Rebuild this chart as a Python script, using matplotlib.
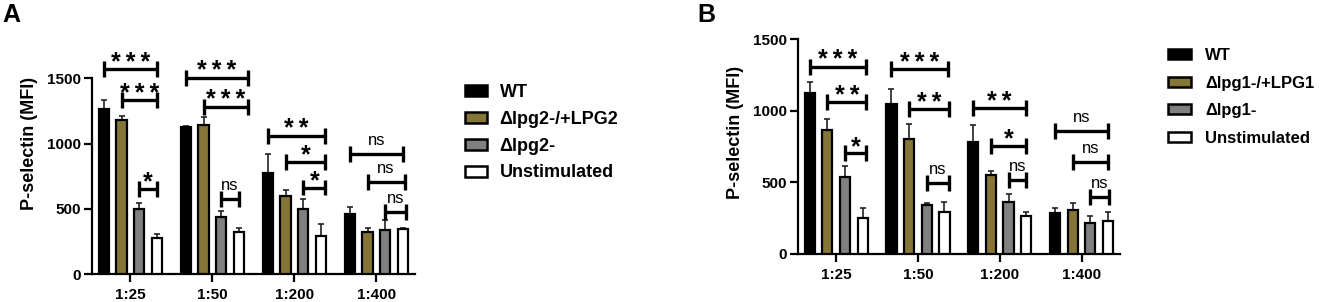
import matplotlib
matplotlib.use("Agg")
import matplotlib.pyplot as plt
from matplotlib.patches import Patch
import numpy as np

plt.rcParams['font.family'] = ['Liberation Sans', 'DejaVu Sans']

groups = ["1:25", "1:50", "1:200", "1:400"]

# Panel A
labels_a = ["WT", "Δlpg2-/+LPG2", "Δlpg2-", "Unstimulated"]
means_a = {
    "WT":           [1262, 1126, 773, 461],
    "Δlpg2-/+LPG2": [1177, 1142, 599, 325],
    "Δlpg2-":       [497, 438, 502, 338],
    "Unstimulated": [274, 322, 294, 346],
}
err_a = {
    "WT":           [71, 5, 143, 56],
    "Δlpg2-/+LPG2": [34, 63, 43, 31],
    "Δlpg2-":       [51, 43, 76, 79],
    "Unstimulated": [31, 31, 90, 5],
}
# (group, from bar, to bar, y, label)
sig_a = [
    (0, 0, 3, 1572, "***"), (0, 1, 3, 1333, "***"), (0, 2, 3, 655, "*"),
    (1, 0, 3.5, 1505, "***"), (1, 1, 3.5, 1282, "***"), (1, 2, 3, 573, "ns"),
    (2, 0, 3.25, 1060, "**"), (2, 1, 3.25, 860, "*"), (2, 2, 3.25, 663, "*"),
    (3, 0, 3, 919, "ns"), (3, 1, 3.1, 706, "ns"), (3, 2, 3.2, 476, "ns"),
]

# Panel B
labels_b = ["WT", "Δlpg1-/+LPG1", "Δlpg1-", "Unstimulated"]
means_b = {
    "WT":           [1123, 1051, 785, 284],
    "Δlpg1-/+LPG1": [867, 806, 550, 310],
    "Δlpg1-":       [540, 342, 361, 219],
    "Unstimulated": [249, 291, 266, 230],
}
err_b = {
    "WT":           [77, 100, 116, 37],
    "Δlpg1-/+LPG1": [74, 105, 32, 48],
    "Δlpg1-":       [77, 12, 56, 49],
    "Unstimulated": [70, 70, 25, 61],
}
sig_b = [
    (0, 0, 3.2, 1309, "***"), (0, 1, 3.2, 1060, "**"), (0, 2, 3.2, 703, "*"),
    (1, 0, 3.2, 1293, "***"), (1, 1, 3.25, 1013, "**"), (1, 2, 3.25, 494, "ns"),
    (2, 0, 3, 1018, "**"), (2, 1, 3, 755, "*"), (2, 2, 3, 517, "ns"),
    (3, 0, 3, 862, "ns"), (3, 1, 3, 645, "ns"), (3, 2, 3.05, 396, "ns"),
]

colors = ["#000000", "#857536", "#808080", "#ffffff"]
slot = 0.216
bw = 0.125

fig = plt.figure(figsize=(13.21, 3.02), dpi=100)


def panel(ax, labels, means, errs, sigs, ylim_top, tick_half):
    x = np.arange(len(groups))
    for i, lab in enumerate(labels):
        pos = x + (i - 1.5) * slot
        ax.bar(pos, means[lab], width=bw, color=colors[i], edgecolor="black",
               linewidth=1.6, zorder=3)
        ax.errorbar(pos, means[lab], yerr=[np.zeros(len(groups)), errs[lab]],
                    fmt="none", ecolor="#222222", elinewidth=1.2, capsize=2.5,
                    capthick=1.2, zorder=2)
    for g, a, b, y, txt in sigs:
        x0 = g + (a - 1.5) * slot
        x1 = g + (b - 1.5) * slot
        ax.plot([x0, x1], [y, y], color="black", lw=2.4, solid_capstyle="butt", zorder=4)
        for xx in (x0, x1):
            ax.plot([xx, xx], [y - tick_half, y + tick_half], color="black",
                    lw=2.4, solid_capstyle="butt", zorder=4)
        if txt == "ns":
            ax.annotate(txt, ((x0 + x1) / 2, y), xytext=(0, 6.5), textcoords="offset points",
                        ha="center", va="baseline", fontsize=12, zorder=5)
        else:
            ax.annotate("\u2009".join(txt), ((x0 + x1) / 2, y), xytext=(0, -0.5),
                        textcoords="offset points", ha="center", va="baseline",
                        fontsize=18, fontweight="bold", zorder=5)
    ax.set_ylim(0, ylim_top)
    ax.set_xlim(-0.47, 3.47)
    ax.spines["top"].set_visible(False)
    ax.spines["right"].set_visible(False)
    ax.spines["left"].set_bounds(0, 1500)
    ax.spines["left"].set_linewidth(1.6)
    ax.spines["bottom"].set_linewidth(1.6)
    ax.set_yticks([0, 500, 1000, 1500])
    ax.set_xticks(x)
    ax.set_xticklabels(groups)
    ax.tick_params(axis="both", width=1.6, length=6, labelsize=11)
    ax.tick_params(axis="y", pad=2)
    ax.tick_params(axis="x", pad=4)
    for t in ax.get_xticklabels() + ax.get_yticklabels():
        t.set_fontweight("bold")
    ax.set_ylabel("P-selectin (MFI)", fontsize=13, fontweight="bold", labelpad=6)


axA = fig.add_axes([0.0696, 0.0927, 0.2445, 0.864])
panel(axA, labels_a, means_a, err_a, sig_a, 2000, 61)
axB = fig.add_axes([0.6039, 0.159, 0.2439, 0.805])
panel(axB, labels_b, means_b, err_b, sig_b, 1700, 56)

legend_specs = [
    (labels_a, (0.3467, 0.745), 13, 1.2, 0.7, 0.54),
    (labels_b, (0.879, 0.862), 12, 1.38, 0.85, 0.75),
]
for labels, anchor, fs, hl, htp, ls in legend_specs:
    handles = [Patch(facecolor=c, edgecolor="black", linewidth=1.8) for c in colors]
    fig.legend(handles, labels, loc="upper left", bbox_to_anchor=anchor, frameon=False,
               prop={"weight": "bold", "size": fs}, handlelength=hl, handleheight=0.55,
               labelspacing=ls, handletextpad=htp, borderaxespad=0)

fig.text(0.002, 0.99, "A", fontsize=18, fontweight="bold", va="top", ha="left")
fig.text(0.528, 0.99, "B", fontsize=18, fontweight="bold", va="top", ha="left")

fig.savefig("out.png", dpi=100)
